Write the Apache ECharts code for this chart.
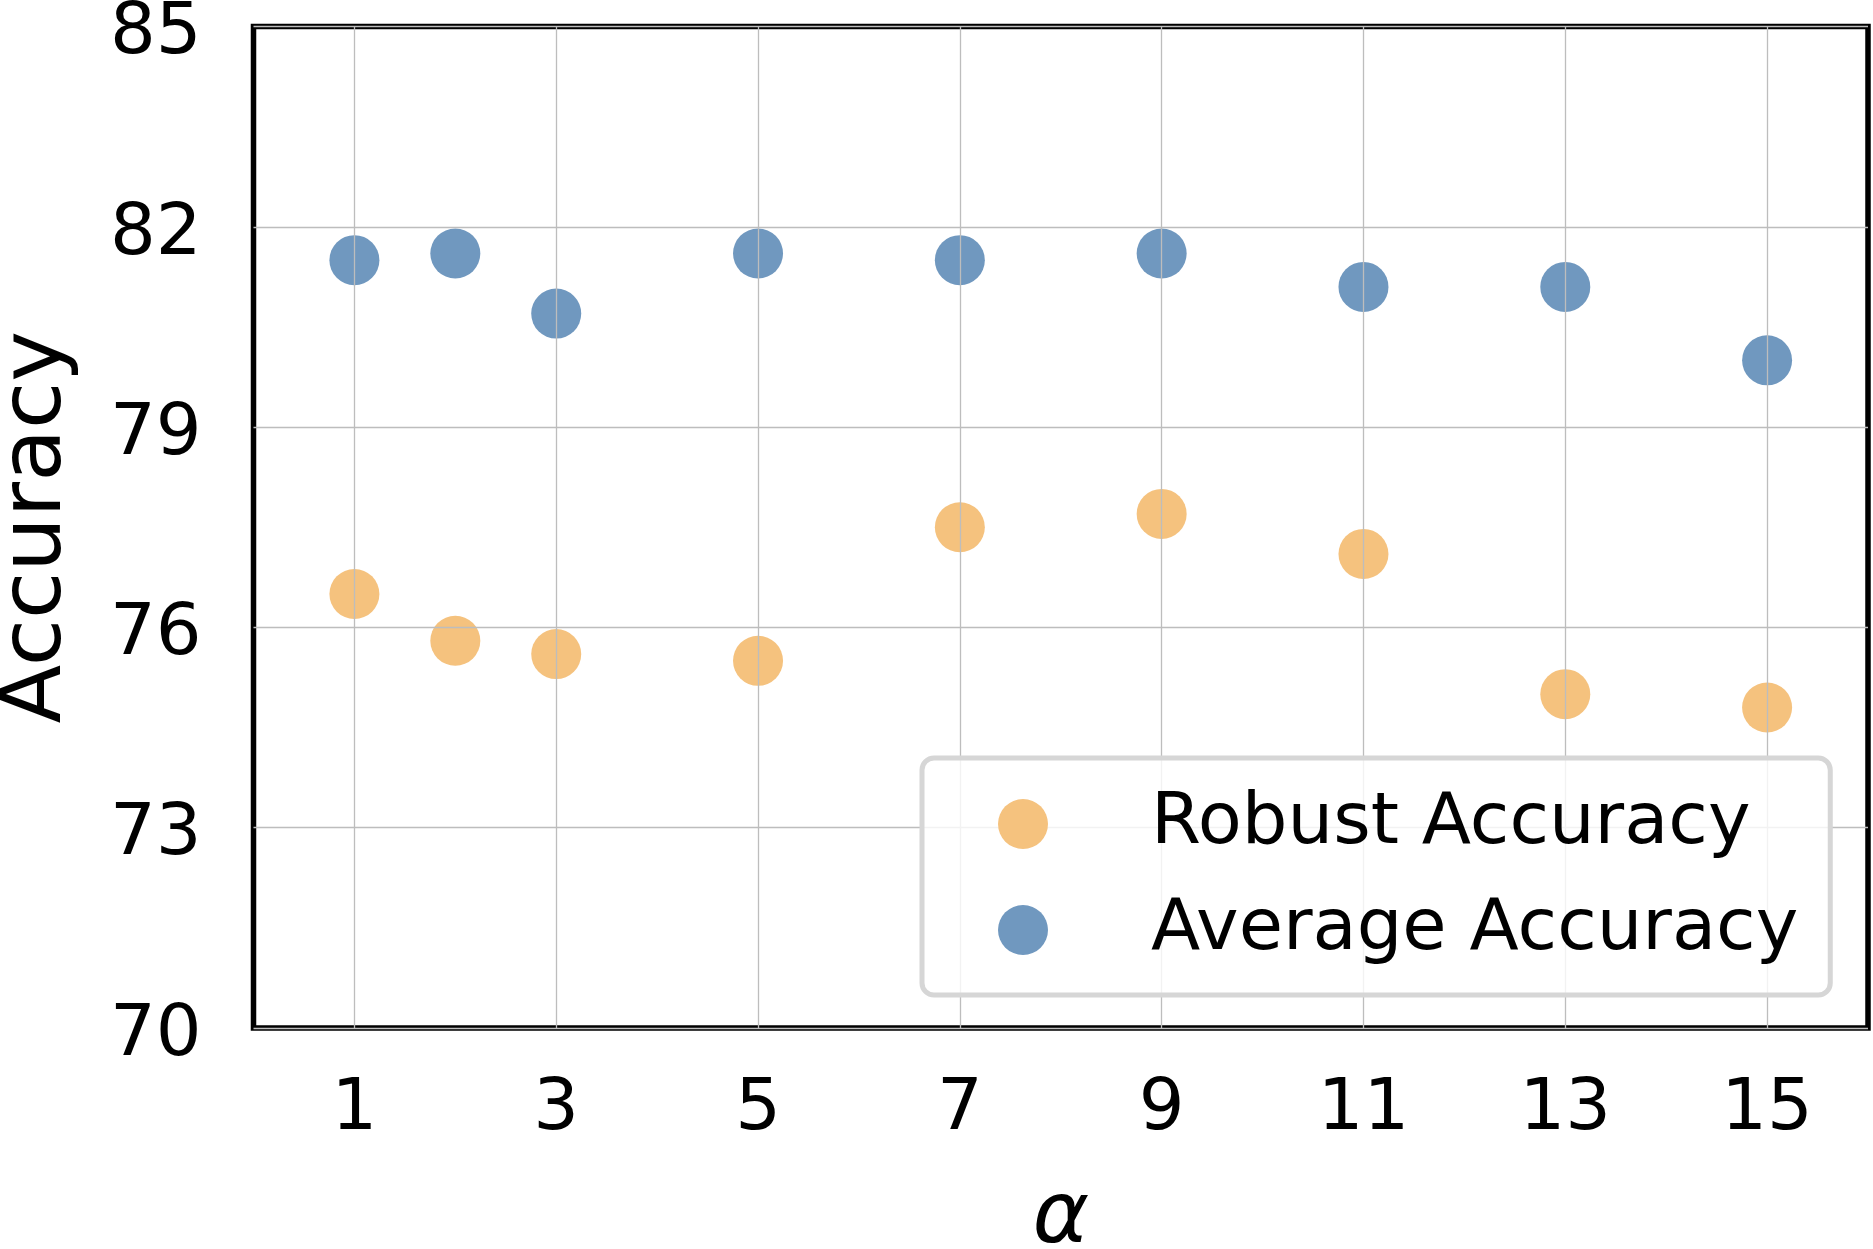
<!DOCTYPE html>
<html>
<head>
<meta charset="utf-8">
<script src="https://cdn.jsdelivr.net/npm/echarts@6/dist/echarts.min.js"></script>
<style>
html,body{margin:0;padding:0;background:#fff;}
#c{width:1873px;height:1249px;}
</style>
</head>
<body>
<div id="c"></div>
<script>
const alphaValues = [1, 2, 3, 5, 7, 9, 11, 13, 15];
const robustAccuracy = [76.5, 75.8, 75.6, 75.5, 77.5, 77.7, 77.1, 75.0, 74.8];
const averageAccuracy = [81.5, 81.6, 80.7, 81.6, 81.5, 81.6, 81.1, 81.1, 80.0];
const xTickValues = [1, 3, 5, 7, 9, 11, 13, 15];
const yTickValues = [70, 73, 76, 79, 82, 85];

const FONT = 'DejaVu Sans';
const chart = echarts.init(document.getElementById('c'), null, {renderer: 'canvas'});

function pairs(xs, ys) { return xs.map((x, i) => [x, ys[i]]); }

chart.setOption({
  animation: false,
  backgroundColor: '#ffffff',
  grid: {
    left: 253.5, right: 5, top: 26.5, bottom: 221,
    containLabel: false, outerBoundsMode: 'none',
    show: true, borderColor: '#000000', borderWidth: 5.5, backgroundColor: 'transparent'
  },
  xAxis: {
    type: 'value', min: 0, max: 16, z: 3,
    name: 'α', nameLocation: 'middle', nameGap: 149,
    nameTextStyle: {fontFamily: FONT, fontSize: 86, fontStyle: 'italic', color: '#000'},
    axisLine: {show: false},
    axisTick: {show: false, customValues: xTickValues},
    axisLabel: {customValues: xTickValues, fontFamily: FONT, fontSize: 72, color: '#000', margin: 46},
    splitLine: {show: true, lineStyle: {color: '#bdbdbd', width: 1.3}}
  },
  yAxis: {
    type: 'value', min: 70, max: 85, z: 3,
    name: 'Accuracy', nameLocation: 'middle', nameGap: 173, nameRotate: 90,
    nameTextStyle: {fontFamily: FONT, fontSize: 86, color: '#000'},
    axisLine: {show: false},
    axisTick: {show: false, customValues: yTickValues},
    axisLabel: {customValues: yTickValues, fontFamily: FONT, fontSize: 72, color: '#000', margin: 52,
                verticalAlign: 'top', lineHeight: 16},
    splitLine: {show: true, lineStyle: {color: '#bdbdbd', width: 1.3}}
  },
  legend: {
    orient: 'vertical', left: 922, top: 758, z: 10,
    padding: [30, 32, 29, 76],
    itemWidth: 50, itemHeight: 50, itemGap: 34,
    backgroundColor: 'rgba(255,255,255,0.8)',
    borderColor: '#d6d6d6', borderWidth: 5, borderRadius: 12,
    textStyle: {fontFamily: FONT, fontSize: 72, color: '#000', padding: [0, 0, 0, 98]},
    data: ['Robust Accuracy', 'Average Accuracy']
  },
  series: [
    {
      name: 'Robust Accuracy', type: 'scatter', symbol: 'circle', symbolSize: 50, z: 2,
      itemStyle: {color: '#f5c27e', opacity: 1},
      data: pairs(alphaValues, robustAccuracy)
    },
    {
      name: 'Average Accuracy', type: 'scatter', symbol: 'circle', symbolSize: 50, z: 2,
      itemStyle: {color: '#7098bf', opacity: 1},
      data: pairs(alphaValues, averageAccuracy)
    }
  ]
});
</script>
</body>
</html>
